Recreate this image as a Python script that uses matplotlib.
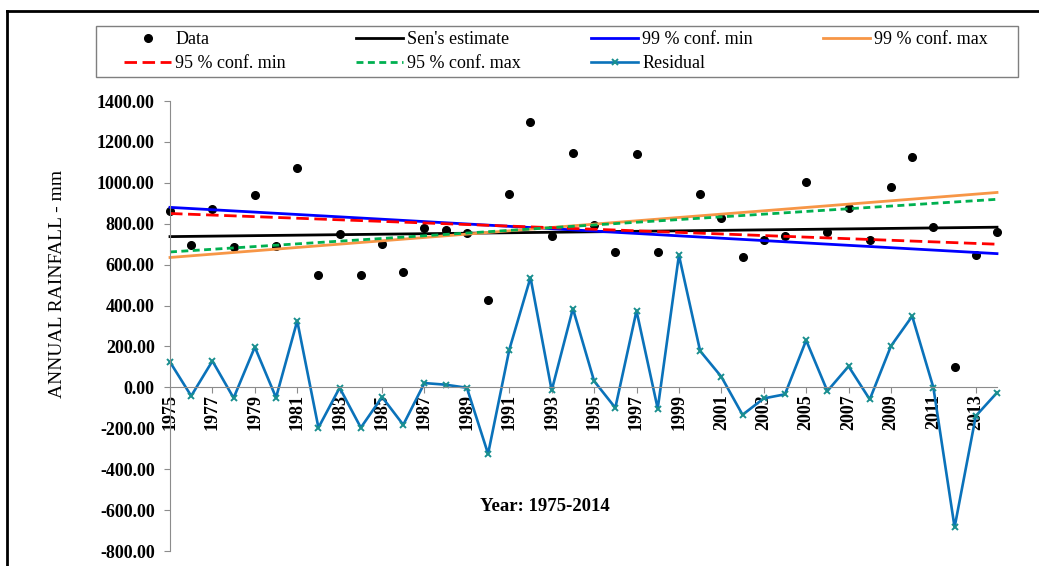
import numpy as np
import matplotlib.pyplot as plt
from matplotlib.lines import Line2D
from matplotlib.patches import Rectangle
from matplotlib.ticker import FuncFormatter

plt.rcParams['font.family'] = ['Liberation Serif', 'DejaVu Serif']

years = np.arange(1975, 2015)

# annual rainfall (mm); 1999 lies above the 1400 axis limit and is not drawn
rainfall = [861, 698, 870, 687, 940, 692, 1072, 551, 750, 551,
            701, 564, 777, 768, 755, 429, 945, 1297, 742, 1147,
            795, 662, 1139, 662, 1408, 945, 826, 636, 720, 742,
            1002, 759, 878, 720, 979, 1126, 782, 101, 649, 759]

residual = [124, -42, 129, -52, 197, -50, 325, -197, -2, -197,
            -47, -183, 21, 13, -2, -325, 184, 537, -15, 385,
            31, -100, 374, -104, 646, 178, 52, -134, -54, -34,
            230, -18, 103, -59, 202, 348, -1, -684, -140, -26]

# trend lines: value = Q * (year - 1975) + B
sen_q, sen_b = 1.18, 737
min99_q, min99_b = -5.8, 880
max99_q, max99_b = 8.15, 635
min95_q, min95_b = -3.85, 850
max95_q, max95_b = 6.6, 662

y_min, y_max = -800, 1400

fig = plt.figure(figsize=(10.39, 5.66), dpi=100)
ax = fig.add_axes([170 / 1039, 1 - 551 / 566, 827 / 1039, 450 / 566])

t = years - years[0]
rain = np.array(rainfall, dtype=float)
rain_shown = np.where(rain > y_max, np.nan, rain)

h_data, = ax.plot(years, rain_shown, 'o', color='black', ms=5.5, ls='none', label='Data')
h_sen, = ax.plot(years, sen_q * t + sen_b, color='black', lw=2, label="Sen's estimate")
h_min99, = ax.plot(years, min99_q * t + min99_b, color='#0000ff', lw=2, label='99 % conf. min')
h_max99, = ax.plot(years, max99_q * t + max99_b, color='#f79646', lw=2, label='99 % conf. max')
h_min95, = ax.plot(years, min95_q * t + min95_b, color='#ff0000', lw=2, ls=(0, (4.5, 2)),
                   label='95 % conf. min')
h_max95, = ax.plot(years, max95_q * t + max95_b, color='#00b050', lw=2, ls=(0, (2.5, 1.6)),
                   label='95 % conf. max')
h_res, = ax.plot(years, residual, color='#0a72ba', lw=1.9, marker='x', ms=4.5, mew=1.4,
                 mec='#1a8f8f', label='Residual')
for h in [h_data, h_sen, h_min99, h_max99, h_min95, h_max95, h_res]:
    h.set_clip_on(False)

ax.set_xlim(years[0], years[-1])
ax.set_ylim(y_min, y_max)
ax.set_yticks(np.arange(y_min, y_max + 1, 200))
ax.yaxis.set_major_formatter(FuncFormatter(lambda v, p: f"{v:.2f}"))
ax.set_xticks(years[::2])

for s in ['top', 'right']:
    ax.spines[s].set_visible(False)
ax.spines['bottom'].set_position(('data', 0))
ax.spines['bottom'].set_color('#8c8c8c')
ax.spines['left'].set_color('#8c8c8c')
ax.tick_params(axis='y', direction='out', length=4, color='#8c8c8c', pad=7,
               labelsize=13)
ax.tick_params(axis='x', direction='out', length=4, color='#8c8c8c', pad=1,
               labelsize=13, labelrotation=90)
for lab in ax.get_xticklabels() + ax.get_yticklabels():
    lab.set_fontweight('bold')

fig.text(58 / 1039, 1 - 284 / 566, 'ANNUAL RAINFALL - mm', rotation=90,
         ha='center', va='center', fontsize=14)
ax.text(0.4534, 0.098, 'Year: 1975-2014', transform=ax.transAxes, ha='center',
        va='center', fontsize=13.5, fontweight='bold')

# legend box + entries in row order
fig.patches.append(Rectangle((96 / 1039, 1 - 77 / 566), 922 / 1039, 51 / 566,
                             transform=fig.transFigure, fill=False,
                             edgecolor='#7f7f7f', lw=1))
handles = [h_data, h_min95, h_sen, h_max95, h_min99, h_res, h_max99]
fig.legend(handles=handles, labels=[h.get_label() for h in handles], ncol=4,
           loc='center', bbox_to_anchor=(556 / 1039, 1 - 51.5 / 566),
           frameon=False, fontsize=13, handlelength=2.6, handletextpad=0.22,
           columnspacing=3.9, labelspacing=0.4)

# outer frame (top and left edges)
fig.add_artist(Line2D([7 / 1039, 1], [1 - 11 / 566, 1 - 11 / 566],
                      transform=fig.transFigure, color='black', lw=2))
fig.add_artist(Line2D([7 / 1039, 7 / 1039], [0, 1 - 11 / 566],
                      transform=fig.transFigure, color='black', lw=2))

fig.savefig('out.png', dpi=100)
